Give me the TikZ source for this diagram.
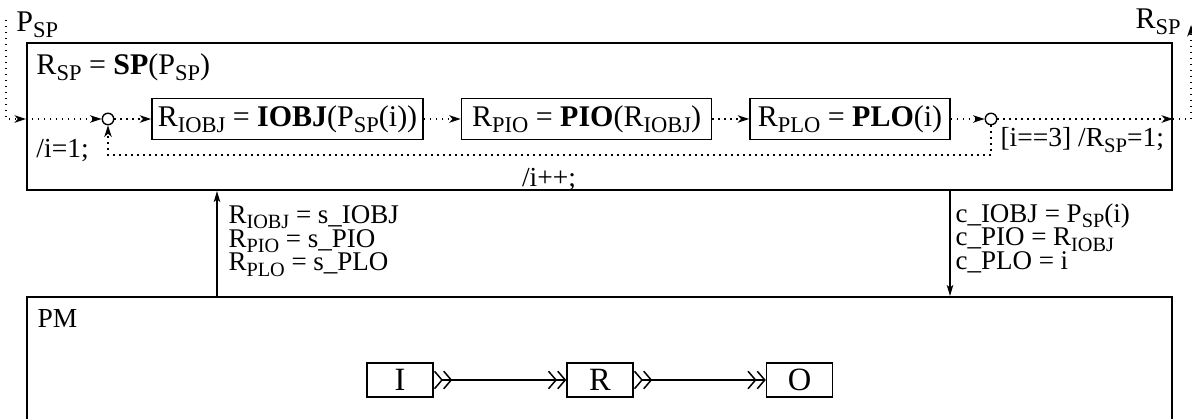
\documentclass[tikz,border=0pt]{standalone}
\usepackage{fontspec}
\setmainfont{Liberation Serif}
\usetikzlibrary{positioning,arrows.meta}
\makeatletter
\newcommand{\idx}[1]{{\@tempdima=\f@size pt\@tempdima=.75\@tempdima
  \raisebox{-.2em}{\fontsize{\strip@pt\@tempdima}{0}\selectfont #1}}}
\makeatother
\newcommand{\tightlines}{\lineskiplimit=-20pt\relax\lineskip=0pt\relax}

\begin{document}
\begin{tikzpicture}[x=0.4pt, y=0.4pt,
  font=\fontsize{12pt}{14pt}\selectfont,
  frame/.style={draw, line width=0.8pt, inner sep=0pt},
  fnbox/.style={draw, line width=0.6pt, minimum height=16.4pt, inner sep=1pt},
  junct/.style={draw, circle, line width=0.55pt, minimum size=4.6pt, inner sep=0pt},
  stage/.style={draw, line width=0.6pt, minimum width=26.4pt, minimum height=13.6pt,
                inner sep=0pt, font=\fontsize{13pt}{15pt}\selectfont},
  note/.style={inner sep=0pt, font=\fontsize{11pt}{13pt}\selectfont},
  lbl/.style={align=left, inner sep=0pt, anchor=north west,
              font=\fontsize{10.8pt}{9.5pt}\selectfont\tightlines},
  flow/.style={-{Stealth[length=4.6pt, width=3pt, inset=1.3pt]}, line width=0.55pt,
               dash pattern=on 0.55pt off 1.85pt},
  arr/.style={-{Stealth[length=4.4pt, width=2.6pt, inset=1pt]}, line width=0.5pt},
  pipe/.style={{Straight Barb[reversed, length=3pt, width=7pt, line width=0.6pt] Straight Barb[reversed, length=3pt, width=7pt, line width=0.6pt]}-{Straight Barb[length=3pt, width=7pt, line width=0.6pt] Straight Barb[length=3pt, width=7pt, line width=0.6pt]},
               line width=0.5pt},
]
\useasboundingbox (0,0) rectangle (1192,419);
\clip (0,0) rectangle (1192,419);

% SP: the sequential process
\node[frame, minimum width=458pt, minimum height=58.8pt] (sp) at (599.5,302.5) {};
\node[anchor=base west, inner sep=0pt] (spt) at (36,344) {R\idx{SP} = \textbf{SP}(P\idx{SP})};
\node[junct] (j1) at (108,300) {};
\node[fnbox, minimum width=108.4pt] (iobj) at (287.5,300) {R\idx{IOBJ} = \textbf{IOBJ}(P\idx{SP}(i))};
\node[fnbox, minimum width=100pt, right=14.8pt of iobj] (pio) {R\idx{PIO} = \textbf{PIO}(R\idx{IOBJ})};
\node[fnbox, minimum width=80pt, right=14.8pt of pio] (plo) {R\idx{PLO} = \textbf{PLO}(i)};
\node[junct] (j2) at (991,300) {};
\node[note, anchor=base west] (init) at (36,261) {/i=1;};
\node[note, anchor=base west] (guard) at (1000,272) {[i==3] /R\idx{SP}=1;};
\node[note, anchor=base] (incr) at (549,232) {/i++;};

% input and result
\node[anchor=base west, inner sep=0pt] (pspl) at (16,387) {P\idx{SP}};
\node[anchor=base west, inner sep=0pt] (rspl) at (1135,390) {R\idx{SP}};
\coordinate (pin) at (6,399);
\coordinate (rout) at (1191,394);

\draw[flow] (pin) |- (sp.west |- j1);
\draw[flow] (sp.west |- j1) -- (j1);
\draw[flow] (j1) -- (iobj);
\draw[flow] (iobj) -- (pio);
\draw[flow] (pio) -- (plo);
\draw[flow] (plo) -- (j2);
\draw[flow] (j2) -- (sp.east |- j2);
\draw[flow] (sp.east |- j2) -| (rout);
\draw[flow] (j2) -- ++(0,-36) -| (j1);

% PM: the pipelined machine
\node[frame, minimum width=458pt, minimum height=60pt] (pm) at (599.5,47) {};
\node[note, anchor=base west] (pml) at (37,91) {PM};
\node[stage] (si) at (400,39) {I};
\node[stage] (sr) at (600,39) {R};
\node[stage] (so) at (799.5,39) {O};
\draw[pipe] (si) -- (sr);
\draw[pipe] (sr) -- (so);

% calls and returns
\draw[arr] ([xshift=76.4pt]pm.north west) -- ([xshift=76.4pt]sp.south west);
\draw[arr] ([xshift=369.6pt]sp.south west) -- ([xshift=369.6pt]pm.north west);
\node[lbl] (rets) at (228,214) {R\idx{IOBJ} = s\_IOBJ\\R\idx{PIO} = s\_PIO\\R\idx{PLO} = s\_PLO};
\node[lbl] (args) at (955,216) {c\_IOBJ = P\idx{SP}(i)\\c\_PIO = R\idx{IOBJ}\\c\_PLO = i};
\end{tikzpicture}
\end{document}
